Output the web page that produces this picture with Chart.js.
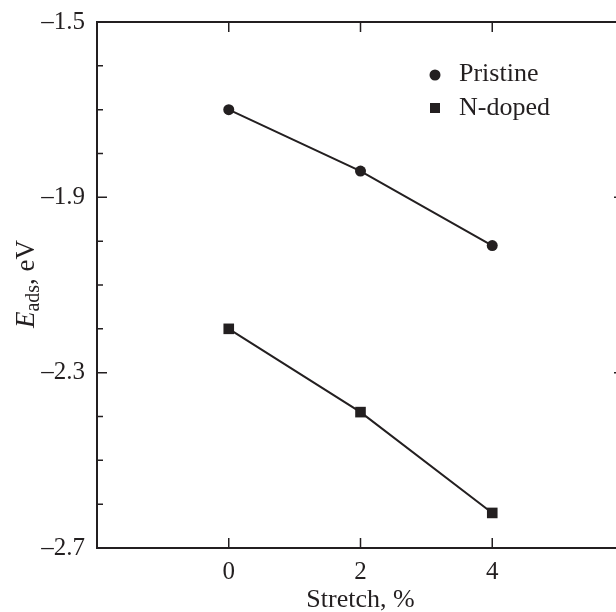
<!DOCTYPE html>
<html lang="en">
<head>
<meta charset="UTF-8">
<title>Adsorption energy vs stretch</title>
<script src="https://cdn.jsdelivr.net/npm/chart.js"></script>
<style>
  html, body { margin: 0; padding: 0; background: #fff; overflow: hidden; }
  canvas { display: block; }
</style>
</head>
<body>
<canvas id="chart" width="640" height="612"></canvas>
<script>
// data
const stretch = [0, 2, 4];
const pristine = [-1.70, -1.84, -2.01];
const nDoped = [-2.20, -2.39, -2.62];
const yLabelTicks = [-1.5, -1.9, -2.3, -2.7];
const xLabelTicks = [0, 2, 4];

const INK = '#231f20';
const FONT = '"Liberation Serif", "Times New Roman", serif';

const toPoints = (ys) => stretch.map((x, i) => ({ x: x, y: ys[i] }));

// frame + inward ticks on all four sides, y title, legend
const framePlugin = {
  id: 'frame',
  afterDraw(chart) {
    const { ctx, chartArea: a, scales } = chart;
    ctx.save();
    ctx.strokeStyle = INK;
    ctx.lineWidth = 2;
    ctx.strokeRect(a.left, a.top, a.right - a.left, a.bottom - a.top);
    ctx.lineWidth = 1.5;
    scales.y.ticks.forEach(t => {
      const py = scales.y.getPixelForValue(t.value);
      const major = yLabelTicks.some(v => Math.abs(v - t.value) < 1e-6);
      const len = major ? 10 : 6;
      ctx.beginPath();
      ctx.moveTo(a.left, py); ctx.lineTo(a.left + len, py);
      ctx.moveTo(a.right, py); ctx.lineTo(a.right - len, py);
      ctx.stroke();
    });
    scales.x.ticks.forEach(t => {
      const px = scales.x.getPixelForValue(t.value);
      if (px <= a.left + 1 || px >= a.right - 1) return;
      ctx.beginPath();
      ctx.moveTo(px, a.bottom); ctx.lineTo(px, a.bottom - 10);
      ctx.moveTo(px, a.top); ctx.lineTo(px, a.top + 10);
      ctx.stroke();
    });

    // y title: E_ads, eV (rotated)
    ctx.translate(27, (a.top + a.bottom) / 2 - 1);
    ctx.rotate(-Math.PI / 2);
    ctx.fillStyle = INK;
    ctx.textBaseline = 'middle';
    const big = '27px ' + FONT;
    const ital = 'italic 27px ' + FONT;
    const sub = '20px ' + FONT;
    ctx.font = ital; const wE = ctx.measureText('E').width;
    ctx.font = sub; const wS = ctx.measureText('ads').width;
    ctx.font = big; const wR = ctx.measureText(', eV').width;
    let x0 = -(wE + wS + wR) / 2;
    ctx.textAlign = 'left';
    ctx.font = ital; ctx.fillText('E', x0, 0); x0 += wE;
    ctx.font = sub; ctx.fillText('ads', x0, 7); x0 += wS;
    ctx.font = big; ctx.fillText(', eV', x0, 0);
    ctx.restore();

    // legend inside the plot
    ctx.save();
    ctx.fillStyle = INK;
    ctx.font = '26px ' + FONT;
    ctx.textBaseline = 'middle';
    ctx.textAlign = 'left';
    const lx = 435, ly = 75, gap = 33;
    ctx.beginPath(); ctx.arc(lx, ly, 5.5, 0, Math.PI * 2); ctx.fill();
    ctx.fillText(chart.data.datasets[0].label, lx + 24, ly - 1);
    ctx.fillRect(lx - 5, ly + gap - 5, 10, 10);
    ctx.fillText(chart.data.datasets[1].label, lx + 24, ly + gap);
    ctx.restore();
  }
};

new Chart(document.getElementById('chart'), {
  type: 'scatter',
  data: {
    datasets: [
      {
        label: 'Pristine',
        data: toPoints(pristine),
        showLine: true,
        borderColor: INK,
        backgroundColor: INK,
        borderWidth: 2,
        pointStyle: 'circle',
        pointRadius: 5.5,
        pointBorderWidth: 0
      },
      {
        label: 'N-doped',
        data: toPoints(nDoped),
        showLine: true,
        borderColor: INK,
        backgroundColor: INK,
        borderWidth: 2,
        pointStyle: 'rect',
        pointRadius: 7.5,
        pointBorderWidth: 0
      }
    ]
  },
  options: {
    responsive: false,
    animation: false,
    layout: { padding: { left: 0, top: 22, right: 16, bottom: 0 } },
    plugins: { legend: { display: false }, tooltip: { enabled: false } },
    scales: {
      x: {
        type: 'linear',
        min: -2, max: 6,
        afterBuildTicks: s => { s.ticks = [-2, 0, 2, 4, 6].map(v => ({ value: v })); },
        afterFit: s => { s.height = 64; },
        grid: { display: false },
        border: { display: false },
        ticks: {
          color: INK,
          font: { family: FONT, size: 25 },
          padding: 1,
          maxRotation: 0,
          callback: v => xLabelTicks.includes(v) ? String(v) : ''
        },
        title: {
          display: true,
          text: 'Stretch, %',
          color: INK,
          font: { family: FONT, size: 26 },
          padding: { top: 0, bottom: -4 }
        }
      },
      y: {
        min: -2.7, max: -1.5,
        afterBuildTicks: s => {
          const t = [];
          for (let i = 0; i <= 12; i++) t.push({ value: Math.round((-2.7 + i * 0.1) * 10) / 10 });
          s.ticks = t;
        },
        afterFit: s => { s.width = 97; },
        grid: { display: false },
        border: { display: false },
        ticks: {
          color: INK,
          font: { family: FONT, size: 25 },
          padding: 4,
          autoSkip: false,
          callback: v => yLabelTicks.some(t => Math.abs(t - v) < 1e-6)
            ? '\u2013' + Math.abs(v).toFixed(1) : ''
        }
      }
    }
  },
  plugins: [framePlugin]
});
</script>
</body>
</html>
